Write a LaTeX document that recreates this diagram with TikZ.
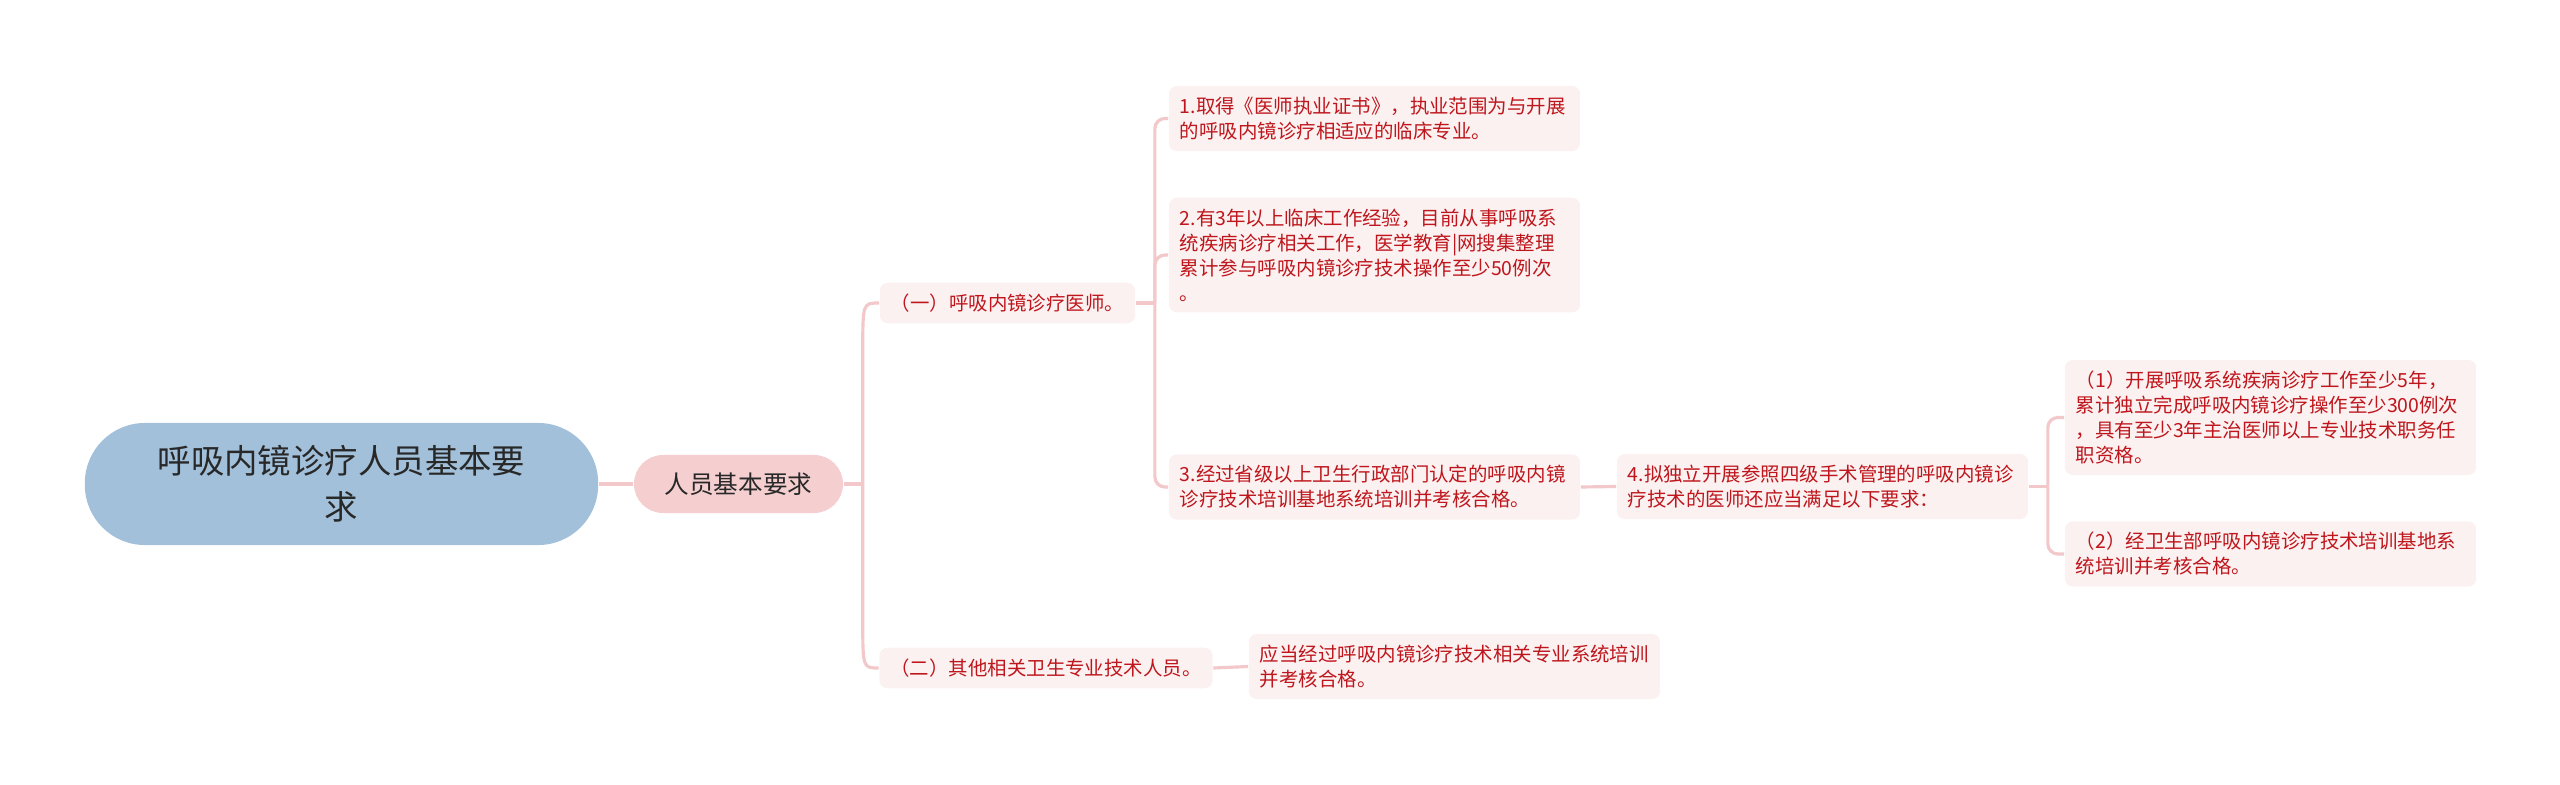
\documentclass[tikz,border=0pt]{standalone}
\usepackage{fontspec}
\setmainfont{Noto Sans CJK SC}
\usepackage{tikz}
\usetikzlibrary{calc,positioning}
\definecolor{rootblue}{RGB}{162,192,218}
\definecolor{mainpink}{RGB}{245,207,208}
\definecolor{leafbg}{RGB}{252,241,241}
\definecolor{leafred}{RGB}{190,22,28}
\definecolor{linkpink}{RGB}{242,200,202}
\definecolor{darktext}{RGB}{40,40,40}
\newcommand\Gap{19}
\tikzset{
  root/.style={
    shape = rectangle,
    fill = rootblue,
    rounded corners = 0.6cm,
    minimum width = 5.13cm,
    minimum height = 1.22cm,
    align = center,
    text = darktext,
    font = \fontsize{9.5}{13}\selectfont
  },
  topic/.style={
    shape = rectangle,
    fill = mainpink,
    rounded corners = 0.29cm,
    minimum width = 2.09cm,
    minimum height = 0.58cm,
    text = darktext,
    font = \fontsize{7}{9}\selectfont
  },
  item/.style={
    shape = rectangle,
    fill = leafbg,
    rounded corners = 0.08cm,
    inner xsep = 0.11cm,
    inner ysep = 0.11cm,
    align = left,
    text = leafred,
    font = \fontsize{5.53}{7.1}\selectfont
  },
  leaf/.style={
    item,
    text width = 3.89cm
  },
  link/.style={
    draw = linkpink,
    line width = 0.9pt
  },
}

\begin{document}
\begin{tikzpicture}[x=0.01cm, y=-0.01cm]
  \useasboundingbox (0,0) rectangle (2560,785);

  \node[root]  (root) at (341.5,484) {呼吸内镜诊疗人员基本要\\求};
  \node[topic] (base) at (738.5,484) {人员基本要求};

  \node[item] (doc)   at (1007.5,303) {（一）呼吸内镜诊疗医师。};
  \node[item] (other) at (1046,668)   {（二）其他相关卫生专业技术人员。};

  \node[leaf] (licence)  at (1374.5,118.5) {1.取得《医师执业证书》，执业范围为与开展\\的呼吸内镜诊疗相适应的临床专业。};
  \node[leaf] (practice) at (1374.5,255)   {2.有3年以上临床工作经验，目前从事呼吸系\\统疾病诊疗相关工作，医学教育|网搜集整理\\累计参与呼吸内镜诊疗技术操作至少50例次\\。};
  \node[leaf] (training) at (1374.5,487)   {3.经过省级以上卫生行政部门认定的呼吸内镜\\诊疗技术培训基地系统培训并考核合格。};
  \node[leaf] (levelfour) at (1822.5,486.5) {4.拟独立开展参照四级手术管理的呼吸内镜诊\\疗技术的医师还应当满足以下要求：};

  \node[leaf] (senior) at (2270.5,417.5) {（1）开展呼吸系统疾病诊疗工作至少5年，\\累计独立完成呼吸内镜诊疗操作至少300例次\\，具有至少3年主治医师以上专业技术职务任\\职资格。};
  \node[leaf] (base2)  at (2270.5,554)   {（2）经卫生部呼吸内镜诊疗技术培训基地系\\统培训并考核合格。};

  \node[leaf] (staff) at (1454.5,666.5) {应当经过呼吸内镜诊疗技术相关专业系统培训\\并考核合格。};

  % junctions
  \coordinate (j1) at ($(base.east)+(\Gap,0)$);
  \coordinate (j2) at ($(doc.east)+(\Gap,0)$);
  \coordinate (j3) at ($(levelfour.east)+(\Gap,0)$);

  \draw[link] (root.east) -- (base.west);
  \draw[link] (base.east) -- (j1);
  \draw[link] (j1) -- ($(j1 |- doc.west)+(0,48)$) .. controls (j1 |- doc.west) .. (doc.west);
  \draw[link] (j1) -- ($(j1 |- other.west)+(0,-48)$) .. controls (j1 |- other.west) .. (other.west);

  \draw[link] (doc.east) -- (j2);
  \draw[link, rounded corners=0.1cm] (j2) |- (licence.west);
  \draw[link, rounded corners=0.1cm] (j2) |- (practice.west);
  \draw[link, rounded corners=0.1cm] (j2) |- (training.west);

  \draw[link] (training.east) -- (levelfour.west);
  \draw[link] (levelfour.east) -- (j3);
  \draw[link, rounded corners=0.1cm] (j3) |- (senior.west);
  \draw[link, rounded corners=0.1cm] (j3) |- (base2.west);

  \draw[link] (other.east) -- (staff.west);
\end{tikzpicture}
\end{document}
